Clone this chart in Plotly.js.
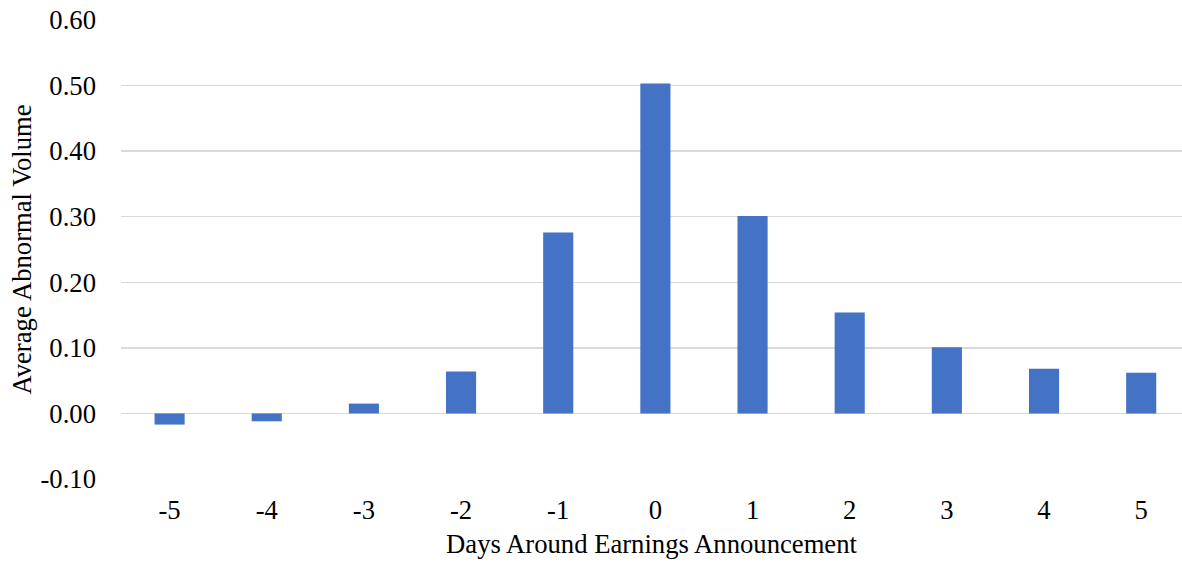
<!DOCTYPE html>
<html>
<head>
<meta charset="utf-8">
<script src="https://cdn.plot.ly/plotly-3.0.1.min.js"></script>
<style>html,body{margin:0;padding:0;background:#fff;}#chart{width:1182px;height:565px;}</style>
</head>
<body>
<div id="chart"></div>
<script>
const days = ['-5','-4','-3','-2','-1','0','1','2','3','4','5'];
const abnormalVolume = [-0.017, -0.012, 0.015, 0.064, 0.276, 0.503, 0.301, 0.154, 0.101, 0.068, 0.062];
const yTickVals = [-0.10, 0.00, 0.10, 0.20, 0.30, 0.40, 0.50, 0.60];
const yTickText = ['-0.10','0.00','0.10','0.20','0.30','0.40','0.50','0.60'];

const font = {family: '"Liberation Serif", "Times New Roman", serif', size: 26.67, color: '#000'};

Plotly.newPlot('chart', [{
  type: 'bar',
  x: days,
  y: abnormalVolume,
  marker: {color: '#4472C4'},
  hoverinfo: 'x+y'
}], {
  width: 1182, height: 565,
  margin: {l: 121, r: 0, t: 20, b: 86},
  paper_bgcolor: '#fff', plot_bgcolor: '#fff',
  font: font,
  bargap: 0.69,
  showlegend: false,
  xaxis: {
    type: 'category',
    range: [-0.5, 10.42],
    showgrid: false, zeroline: false, showline: false,
    ticks: '', ticklabelstandoff: 12,
    tickfont: font,
    automargin: false,
    title: {text: 'Days Around Earnings Announcement', font: font, standoff: 10}
  },
  yaxis: {
    range: [-0.10, 0.60],
    tickvals: yTickVals, ticktext: yTickText,
    showgrid: true, gridcolor: '#d9d9d9', gridwidth: 1.5,
    zeroline: true, zerolinecolor: '#d9d9d9', zerolinewidth: 1.5,
    showline: false, ticks: '', ticklabelstandoff: 24,
    tickfont: font,
    automargin: false,
    title: {text: 'Average Abnormal Volume', font: font, standoff: 1}
  }
}, {displayModeBar: false, staticPlot: true});
</script>
</body>
</html>
